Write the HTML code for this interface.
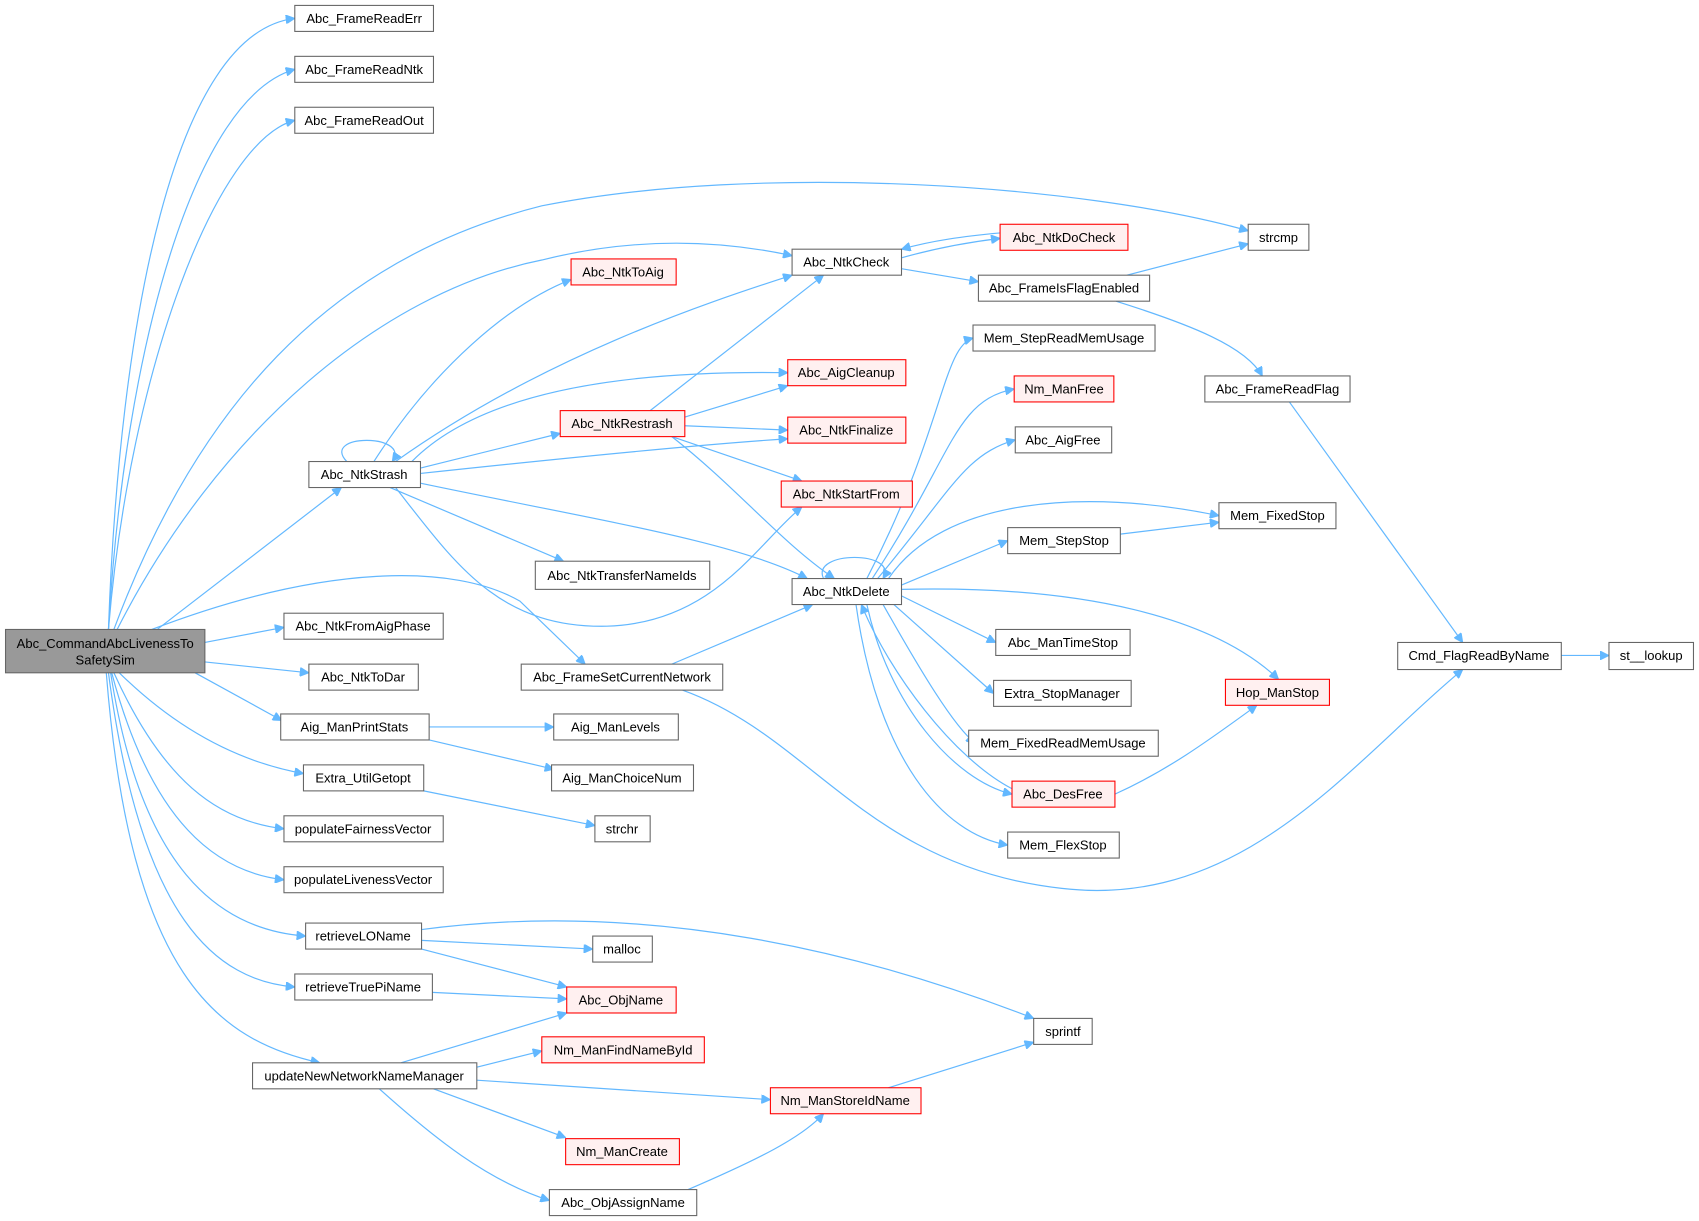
<!DOCTYPE html>
<html><head><meta charset="utf-8"><style>
html,body{margin:0;padding:0;background:#fff;}
svg{display:block}
text{font-family:"Liberation Sans",Arial,sans-serif;font-size:12px;fill:#000;text-anchor:middle;dominant-baseline:central}
.n rect{fill:#fff;stroke:#666;stroke-width:1}
.r rect{fill:#fff0f0;stroke:#ff0000;stroke-width:1}
path{fill:none;stroke:#63b8ff;stroke-width:1.1;marker-end:url(#a)}
</style></head><body>
<svg width="1699" height="1221" viewBox="0 0 1568 1127" xmlns="http://www.w3.org/2000/svg">
<defs><marker id="a" viewBox="0 0 10 10" refX="10" refY="5" markerWidth="9" markerHeight="8" markerUnits="userSpaceOnUse" orient="auto"><path d="M0,0 L10,5 L0,10 z" style="fill:#63b8ff;stroke:#63b8ff;marker-end:none"/></marker></defs>

<!-- edges -->
<path d="M100,581 C110,300 160,30 272,17"/>
<path d="M100,581 C115,320 180,90 272,64"/>
<path d="M100,581 C120,340 200,130 272,111"/>
<path d="M105,581 C180,380 300,240 500,190 C700,150 1000,170 1152,213"/>
<path d="M108,581 C200,400 350,270 500,240 C600,215 680,225 731,236"/>
<path d="M145,581 L315,450"/>
<path d="M140,581 C300,520 420,520 480,555 L540,613"/>
<path d="M189,593 L262,579"/>
<path d="M189,611 L285,621"/>
<path d="M180,621 L260,665"/>
<path d="M110,621 C170,680 230,705 280,714"/>
<path d="M105,621 C150,720 200,758 262,765"/>
<path d="M103,621 C140,760 200,805 262,812"/>
<path d="M102,621 C130,800 200,858 282,864"/>
<path d="M100,621 C130,850 200,905 272,911"/>
<path d="M98,621 C120,900 200,960 295,981"/>
<path d="M320,426 C295,400 380,400 362,426"/>
<path d="M345,426 C400,340 470,280 527,258"/>
<path d="M365,426 C500,330 650,280 731,254"/>
<path d="M380,426 C450,355 600,342 727,344"/>
<path d="M388,432 L517,400"/>
<path d="M388,437 C500,425 650,410 727,405"/>
<path d="M365,450 C420,520 460,580 560,578 C660,575 700,500 740,468"/>
<path d="M360,450 L520,518"/>
<path d="M388,446 C550,480 680,500 745,534"/>
<path d="M600,379 L760,254"/>
<path d="M632,385 L727,356"/>
<path d="M632,393 L727,397"/>
<path d="M620,403 L740,444"/>
<path d="M620,403 C680,450 720,500 770,534"/>
<path d="M832,238 C860,230 890,224 923,220"/>
<path d="M923,215 C890,218 860,222 832,230"/>
<path d="M832,248 L903,260"/>
<path d="M1040,254 L1152,225"/>
<path d="M1030,278 C1100,300 1150,320 1165,347"/>
<path d="M1190,371 L1350,593"/>
<path d="M1441,605 L1485,605"/>
<path d="M620,613 L750,558"/>
<path d="M630,637 C750,680 800,800 980,820 C1150,840 1250,700 1350,618"/>
<path d="M760,534 C748,508 830,508 815,534"/>
<path d="M800,534 C870,400 870,320 898,312"/>
<path d="M805,534 C880,420 880,370 936,359"/>
<path d="M810,534 C880,450 890,420 937,406"/>
<path d="M820,534 C870,460 1000,450 1125,476"/>
<path d="M832,540 L930,499"/>
<path d="M832,544 C1000,540 1120,570 1180,627"/>
<path d="M832,550 L919,593"/>
<path d="M825,558 L917,640"/>
<path d="M815,558 C850,620 880,670 900,686"/>
<path d="M800,558 C820,650 880,720 934,733"/>
<path d="M934,728 C880,700 820,620 795,558"/>
<path d="M790,558 C810,700 870,770 930,780"/>
<path d="M1034,493 L1125,482"/>
<path d="M1029,733 C1080,710 1120,680 1160,651"/>
<path d="M396,671 L511,671"/>
<path d="M396,683 L511,710"/>
<path d="M391,730 L549,762"/>
<path d="M389,858 C600,830 800,880 954,940"/>
<path d="M389,868 L547,876"/>
<path d="M389,876 L523,911"/>
<path d="M399,916 L523,922"/>
<path d="M370,981 L523,935"/>
<path d="M440,985 L500,970"/>
<path d="M440,997 L711,1015"/>
<path d="M400,1005 L522,1050"/>
<path d="M350,1005 C400,1050 450,1090 507,1108"/>
<path d="M635,1098 C700,1070 740,1050 760,1028"/>
<path d="M820,1004 L954,962"/>

<!-- nodes -->
<g><rect x="5" y="581" width="184" height="40" style="fill:#999;stroke:#666"/><text x="97" y="594">Abc_CommandAbcLivenessTo</text><text x="97" y="609">SafetySim</text></g>
<g class="n"><rect x="272" y="5" width="128" height="24"/><text x="336" y="17">Abc_FrameReadErr</text></g>
<g class="n"><rect x="272" y="52" width="128" height="24"/><text x="336" y="64">Abc_FrameReadNtk</text></g>
<g class="n"><rect x="272" y="99" width="128" height="24"/><text x="336" y="111">Abc_FrameReadOut</text></g>
<g class="r"><rect x="527" y="239" width="97" height="24"/><text x="575" y="251">Abc_NtkToAig</text></g>
<g class="n"><rect x="731" y="230" width="101" height="24"/><text x="781" y="242">Abc_NtkCheck</text></g>
<g class="r"><rect x="923" y="207" width="118" height="24"/><text x="982" y="219">Abc_NtkDoCheck</text></g>
<g class="n"><rect x="1152" y="207" width="56" height="24"/><text x="1180" y="219">strcmp</text></g>
<g class="n"><rect x="903" y="254" width="158" height="24"/><text x="982" y="266">Abc_FrameIsFlagEnabled</text></g>
<g class="n"><rect x="898" y="300" width="168" height="24"/><text x="982" y="312">Mem_StepReadMemUsage</text></g>
<g class="r"><rect x="936" y="347" width="92" height="24"/><text x="982" y="359">Nm_ManFree</text></g>
<g class="n"><rect x="937" y="394" width="89" height="24"/><text x="981" y="406">Abc_AigFree</text></g>
<g class="n"><rect x="1112" y="347" width="134" height="24"/><text x="1179" y="359">Abc_FrameReadFlag</text></g>
<g class="r"><rect x="727" y="332" width="109" height="24"/><text x="781" y="344">Abc_AigCleanup</text></g>
<g class="r"><rect x="517" y="379" width="115" height="24"/><text x="574" y="391">Abc_NtkRestrash</text></g>
<g class="r"><rect x="727" y="385" width="109" height="24"/><text x="781" y="397">Abc_NtkFinalize</text></g>
<g class="n"><rect x="285" y="426" width="103" height="24"/><text x="336" y="438">Abc_NtkStrash</text></g>
<g class="r"><rect x="721" y="444" width="121" height="24"/><text x="781" y="456">Abc_NtkStartFrom</text></g>
<g class="n"><rect x="1125" y="464" width="108" height="24"/><text x="1179" y="476">Mem_FixedStop</text></g>
<g class="n"><rect x="930" y="487" width="104" height="24"/><text x="982" y="499">Mem_StepStop</text></g>
<g class="n"><rect x="494" y="518" width="161" height="26"/><text x="574" y="531">Abc_NtkTransferNameIds</text></g>
<g class="n"><rect x="731" y="534" width="101" height="24"/><text x="781" y="546">Abc_NtkDelete</text></g>
<g class="n"><rect x="262" y="566" width="147" height="24"/><text x="335" y="578">Abc_NtkFromAigPhase</text></g>
<g class="n"><rect x="285" y="613" width="101" height="24"/><text x="335" y="625">Abc_NtkToDar</text></g>
<g class="n"><rect x="481" y="613" width="186" height="24"/><text x="574" y="625">Abc_FrameSetCurrentNetwork</text></g>
<g class="n"><rect x="919" y="581" width="124" height="24"/><text x="981" y="593">Abc_ManTimeStop</text></g>
<g class="n"><rect x="1290" y="593" width="151" height="25"/><text x="1365" y="605">Cmd_FlagReadByName</text></g>
<g class="n"><rect x="1485" y="593" width="78" height="25"/><text x="1524" y="605">st__lookup</text></g>
<g class="n"><rect x="917" y="628" width="127" height="24"/><text x="980" y="640">Extra_StopManager</text></g>
<g class="r"><rect x="1131" y="627" width="96" height="24"/><text x="1179" y="639">Hop_ManStop</text></g>
<g class="n"><rect x="259" y="659" width="137" height="24"/><text x="327" y="671">Aig_ManPrintStats</text></g>
<g class="n"><rect x="511" y="659" width="115" height="24"/><text x="568" y="671">Aig_ManLevels</text></g>
<g class="n"><rect x="894" y="674" width="175" height="24"/><text x="981" y="686">Mem_FixedReadMemUsage</text></g>
<g class="n"><rect x="280" y="706" width="111" height="24"/><text x="335" y="718">Extra_UtilGetopt</text></g>
<g class="n"><rect x="509" y="706" width="131" height="24"/><text x="574" y="718">Aig_ManChoiceNum</text></g>
<g class="r"><rect x="934" y="721" width="95" height="24"/><text x="981" y="733">Abc_DesFree</text></g>
<g class="n"><rect x="262" y="753" width="147" height="24"/><text x="335" y="765">populateFairnessVector</text></g>
<g class="n"><rect x="549" y="753" width="51" height="24"/><text x="574" y="765">strchr</text></g>
<g class="n"><rect x="930" y="768" width="103" height="24"/><text x="981" y="780">Mem_FlexStop</text></g>
<g class="n"><rect x="262" y="800" width="147" height="24"/><text x="335" y="812">populateLivenessVector</text></g>
<g class="n"><rect x="282" y="852" width="107" height="24"/><text x="335" y="864">retrieveLOName</text></g>
<g class="n"><rect x="547" y="864" width="55" height="24"/><text x="574" y="876">malloc</text></g>
<g class="n"><rect x="272" y="899" width="127" height="24"/><text x="335" y="911">retrieveTruePiName</text></g>
<g class="r"><rect x="523" y="911" width="101" height="24"/><text x="573" y="923">Abc_ObjName</text></g>
<g class="n"><rect x="954" y="940" width="54" height="24"/><text x="981" y="952">sprintf</text></g>
<g class="r"><rect x="500" y="957" width="150" height="24"/><text x="575" y="969">Nm_ManFindNameById</text></g>
<g class="n"><rect x="233" y="981" width="207" height="24"/><text x="336" y="993">updateNewNetworkNameManager</text></g>
<g class="r"><rect x="711" y="1004" width="139" height="24"/><text x="780" y="1016">Nm_ManStoreIdName</text></g>
<g class="r"><rect x="522" y="1051" width="105" height="24"/><text x="574" y="1063">Nm_ManCreate</text></g>
<g class="n"><rect x="507" y="1098" width="136" height="24"/><text x="575" y="1110">Abc_ObjAssignName</text></g>
</svg>
</body></html>
